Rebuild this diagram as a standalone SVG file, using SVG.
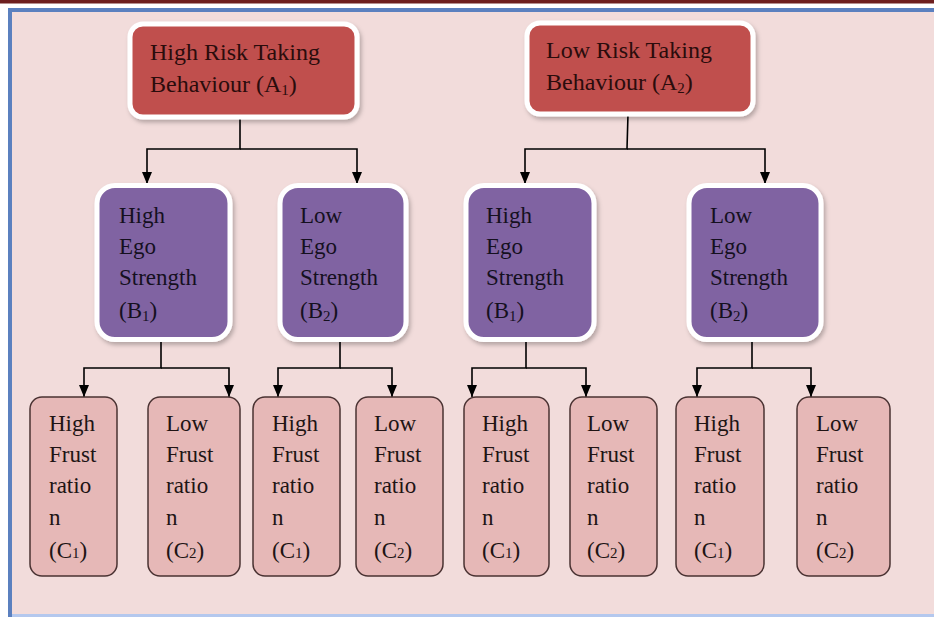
<svg xmlns="http://www.w3.org/2000/svg" width="934" height="617" viewBox="0 0 934 617">
<style>
text{font-family:"Liberation Serif","Times New Roman",serif;font-size:23px;}
.ta{fill:#2a0c0c;font-size:24px;}
.tb{fill:#15101e;}
.tc{fill:#201414;}
.a{fill:#c0504d;stroke:#ffffff;stroke-width:5;}
.b{fill:#8064a2;stroke:#ffffff;stroke-width:5;}
.c{fill:#e6b8b7;stroke:#4a3232;stroke-width:1.5;}
.con path{fill:none;stroke:#000;stroke-width:1.6;marker-end:url(#arr);}
.sub{font-size:15px;}
</style>
<defs>
<marker id="arr" markerUnits="userSpaceOnUse" markerWidth="10" markerHeight="12" refX="5" refY="12" orient="0" viewBox="0 0 10 12">
<path d="M0,0 L10,0 L5,12 z" fill="#000"/>
</marker>
<filter id="sh" x="-10%" y="-10%" width="125%" height="125%">
<feDropShadow dx="2" dy="3" stdDeviation="2" flood-color="#000" flood-opacity="0.25"/>
</filter>
</defs>
<rect x="0" y="0" width="934" height="617" fill="#ffffff"/>
<rect x="0" y="0" width="934" height="3.5" fill="#6d1f1f"/>
<rect x="8" y="8" width="926" height="606" fill="#f2dcdb"/>
<path d="M10,617 V10 H934" fill="none" stroke="#5b80bf" stroke-width="4"/>
<rect x="12" y="614" width="922" height="3" fill="#b4c8ee"/>

<g id="conn" class="con">
<path d="M240,118 V149 H147 V184"/>
<path d="M240,149 H357 V184"/>
<path d="M628,114 L627,149 H525 V184"/>
<path d="M627,149 H765 V184"/>
<path d="M161,340 V368 H84 V397"/>
<path d="M161,368 H229 V397"/>
<path d="M340,340 V368 H278 V397"/>
<path d="M340,368 H392 V397"/>
<path d="M526,340 V368 H472 V397"/>
<path d="M526,368 H586 V397"/>
<path d="M752,340 V368 H697 V397"/>
<path d="M752,368 H811 V397"/>
</g>

<g id="A1">
<rect class="a" x="130" y="24" width="227" height="93" rx="13" filter="url(#sh)"/>
<text class="ta" x="150" y="60">High Risk Taking</text>
<text class="ta" x="150" y="92">Behaviour (A<tspan class="sub" dy="3">1</tspan><tspan dy="-3">)</tspan></text>
</g>
<g id="A2">
<rect class="a" x="527" y="23" width="226" height="91" rx="13" filter="url(#sh)"/>
<text class="ta" x="546" y="58">Low Risk Taking</text>
<text class="ta" x="546" y="90">Behaviour (A<tspan class="sub" dy="3">2</tspan><tspan dy="-3">)</tspan></text>
</g>

<g id="B1L">
<rect class="b" x="97" y="185.5" width="133" height="154" rx="18" filter="url(#sh)"/>
<text class="tb" x="119" y="223">High</text>
<text class="tb" x="119" y="254">Ego</text>
<text class="tb" x="119" y="285">Strength</text>
<text class="tb" x="119" y="318">(B<tspan class="sub" dy="3">1</tspan><tspan dy="-3">)</tspan></text>
</g>
<g id="B2L">
<rect class="b" x="280" y="185.5" width="126" height="154" rx="18" filter="url(#sh)"/>
<text class="tb" x="300" y="223">Low</text>
<text class="tb" x="300" y="254">Ego</text>
<text class="tb" x="300" y="285">Strength</text>
<text class="tb" x="300" y="318">(B<tspan class="sub" dy="3">2</tspan><tspan dy="-3">)</tspan></text>
</g>
<g id="B1R">
<rect class="b" x="466" y="185.5" width="128" height="154" rx="18" filter="url(#sh)"/>
<text class="tb" x="486" y="223">High</text>
<text class="tb" x="486" y="254">Ego</text>
<text class="tb" x="486" y="285">Strength</text>
<text class="tb" x="486" y="318">(B<tspan class="sub" dy="3">1</tspan><tspan dy="-3">)</tspan></text>
</g>
<g id="B2R">
<rect class="b" x="689" y="185.5" width="132" height="154" rx="18" filter="url(#sh)"/>
<text class="tb" x="710" y="223">Low</text>
<text class="tb" x="710" y="254">Ego</text>
<text class="tb" x="710" y="285">Strength</text>
<text class="tb" x="710" y="318">(B<tspan class="sub" dy="3">2</tspan><tspan dy="-3">)</tspan></text>
</g>

<g id="C1">
<rect class="c" x="30" y="397" width="87" height="179" rx="12"/>
<text class="tc" x="49" y="431">High</text>
<text class="tc" x="49" y="462">Frust</text>
<text class="tc" x="49" y="493">ratio</text>
<text class="tc" x="49" y="525">n</text>
<text class="tc" x="49" y="558">(C<tspan class="sub">1</tspan>)</text>
</g>
<g id="C2">
<rect class="c" x="148" y="397" width="92" height="179" rx="12"/>
<text class="tc" x="166" y="431">Low</text>
<text class="tc" x="166" y="462">Frust</text>
<text class="tc" x="166" y="493">ratio</text>
<text class="tc" x="166" y="525">n</text>
<text class="tc" x="166" y="558">(C<tspan class="sub">2</tspan>)</text>
</g>
<g id="C3">
<rect class="c" x="253" y="397" width="87" height="179" rx="12"/>
<text class="tc" x="272" y="431">High</text>
<text class="tc" x="272" y="462">Frust</text>
<text class="tc" x="272" y="493">ratio</text>
<text class="tc" x="272" y="525">n</text>
<text class="tc" x="272" y="558">(C<tspan class="sub">1</tspan>)</text>
</g>
<g id="C4">
<rect class="c" x="356" y="397" width="87" height="179" rx="12"/>
<text class="tc" x="374" y="431">Low</text>
<text class="tc" x="374" y="462">Frust</text>
<text class="tc" x="374" y="493">ratio</text>
<text class="tc" x="374" y="525">n</text>
<text class="tc" x="374" y="558">(C<tspan class="sub">2</tspan>)</text>
</g>
<g id="C5">
<rect class="c" x="464" y="397" width="85" height="179" rx="12"/>
<text class="tc" x="482" y="431">High</text>
<text class="tc" x="482" y="462">Frust</text>
<text class="tc" x="482" y="493">ratio</text>
<text class="tc" x="482" y="525">n</text>
<text class="tc" x="482" y="558">(C<tspan class="sub">1</tspan>)</text>
</g>
<g id="C6">
<rect class="c" x="570" y="397" width="87" height="179" rx="12"/>
<text class="tc" x="587" y="431">Low</text>
<text class="tc" x="587" y="462">Frust</text>
<text class="tc" x="587" y="493">ratio</text>
<text class="tc" x="587" y="525">n</text>
<text class="tc" x="587" y="558">(C<tspan class="sub">2</tspan>)</text>
</g>
<g id="C7">
<rect class="c" x="676" y="397" width="88" height="179" rx="12"/>
<text class="tc" x="694" y="431">High</text>
<text class="tc" x="694" y="462">Frust</text>
<text class="tc" x="694" y="493">ratio</text>
<text class="tc" x="694" y="525">n</text>
<text class="tc" x="694" y="558">(C<tspan class="sub">1</tspan>)</text>
</g>
<g id="C8">
<rect class="c" x="797" y="397" width="93" height="179" rx="12"/>
<text class="tc" x="816" y="431">Low</text>
<text class="tc" x="816" y="462">Frust</text>
<text class="tc" x="816" y="493">ratio</text>
<text class="tc" x="816" y="525">n</text>
<text class="tc" x="816" y="558">(C<tspan class="sub">2</tspan>)</text>
</g>
</svg>
